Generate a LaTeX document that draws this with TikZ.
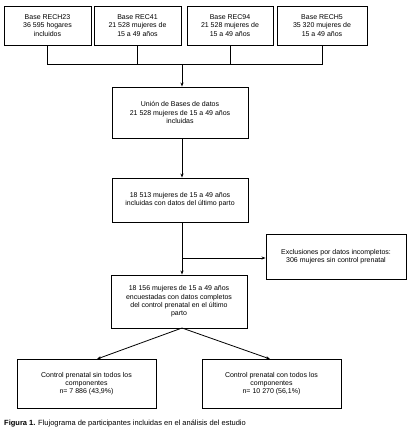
\documentclass[tikz,border=0pt]{standalone}
\usepackage{fontspec}
\setmainfont{Liberation Sans}
\usetikzlibrary{arrows.meta}
\begin{document}
\begin{tikzpicture}[x=1pt,y=-1pt,
  box/.style={draw, line width=0.9pt, inner sep=0pt, align=center,
    font=\fontsize{7}{8.3}\selectfont},
  conn/.style={line width=0.8pt},
  arr/.style={conn, -{Stealth[length=4pt,width=3pt]}}]
\useasboundingbox (0,0) rectangle (408,434);
% top boxes
\node[box, minimum width=87pt, minimum height=39pt] (b1) at (47.5,25.5) {Base RECH23\\36 595 hogares\\incluidos};
\node[box, minimum width=87pt, minimum height=39pt] (b2) at (137.5,25.5) {Base REC41\\21 528 mujeres de\\15 a 49 años};
\node[box, minimum width=86pt, minimum height=39pt] (b3) at (230,25.5) {Base REC94\\21 528 mujeres de\\15 a 49 años};
\node[box, minimum width=90pt, minimum height=39pt] (b4) at (322,25.5) {Base RECH5\\35 320 mujeres de\\15 a 49 años};
% union
\node[box, minimum width=136pt, minimum height=51pt] (u) at (180,112.5) {Unión de Bases de datos\\21 528 mujeres de 15 a 49 años\\incluidas};
\node[box, minimum width=136pt, minimum height=44pt] (p) at (180,200) {18 513 mujeres de 15 a 49 años\\incluidas con datos del último parto};
\node[box, minimum width=140pt, minimum height=45pt] (ex) at (336,256.5) {Exclusiones por datos incompletos:\\306 mujeres sin control prenatal};
\node[box, minimum width=136pt, minimum height=53pt] (c) at (179,301.5) {18 156 mujeres de 15 a 49 años\\encuestadas con datos completos\\del control prenatal en el último\\parto};
\node[box, minimum width=139pt, minimum height=49pt] (l) at (86.5,383.5) {Control prenatal sin todos los\\componentes\\n= 7 886 (43,9\%)};
\node[box, minimum width=139pt, minimum height=49pt] (r) at (271.5,383.5) {Control prenatal con todos los\\componentes\\n= 10 270 (56,1\%)};
% caption
\node[anchor=west, inner sep=0pt, font=\fontsize{7.5}{8.5}\selectfont] (cap) at (4,424) {\textbf{Figura 1.} Flujograma de participantes incluidas en el análisis del estudio};
% connectors
\coordinate (h1) at (b1.south |- 0,64);
\coordinate (h4) at (b4.south |- 0,64);
\draw[conn] (b1.south) -- (h1) -- (h4) -- (b4.south);
\draw[conn] (b2.south) -- (b2.south |- h1);
\draw[conn] (b3.south) -- (b3.south |- h1);
\coordinate (hu) at (182,64);
\draw[arr] (hu) -- (hu |- u.north);
\draw[arr] (u.south -| hu) -- (hu |- p.north);
\draw[arr] (p.south -| hu) -- (hu |- c.north);
\coordinate (br) at (182,258);
\draw[arr] (br) -- (br -| ex.west);
\coordinate (ap) at (182,328);
\draw[arr] (ap) -- (97,359);
\draw[arr] (ap) -- (270,359);
\end{tikzpicture}
\end{document}
